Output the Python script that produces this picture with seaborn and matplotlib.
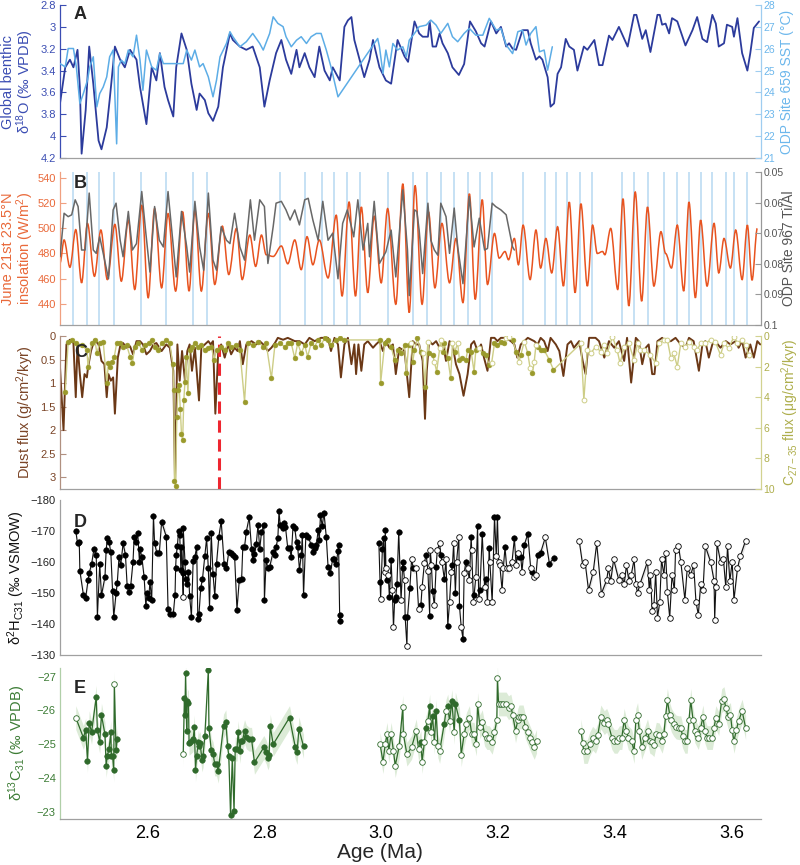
import numpy as np
import pandas as pd
import seaborn as sns
import matplotlib.pyplot as plt
from matplotlib.path import Path
from matplotlib.patches import PathPatch

sns.set_theme(style="white")
plt.rcParams['font.family'] = ['Liberation Sans', 'DejaVu Sans']
plt.rcParams['mathtext.default'] = 'regular'

# ---------------- data (age in Ma) ----------------
# A: global benthic d18O stack (per mil VPDB)
LR04 = [(2.450, 3.70), (2.459, 3.37), (2.467, 3.30), (2.473, 3.37), (2.480, 3.21), (2.484, 3.55),
        (2.487, 4.16), (2.494, 3.76), (2.500, 3.18), (2.507, 3.52), (2.516, 4.04), (2.521, 4.12),
        (2.530, 3.92), (2.535, 3.67), (2.544, 3.18), (2.553, 3.30), (2.561, 3.37), (2.570, 3.21),
        (2.581, 3.30), (2.587, 3.55), (2.598, 3.89), (2.607, 3.37), (2.615, 3.49), (2.621, 3.24),
        (2.629, 3.55), (2.635, 3.67), (2.644, 3.82), (2.649, 3.37), (2.658, 3.06), (2.667, 3.21),
        (2.675, 3.52), (2.684, 3.76), (2.689, 3.61), (2.698, 3.67), (2.704, 3.79), (2.712, 3.86),
        (2.721, 3.73), (2.729, 3.37), (2.741, 3.06), (2.746, 3.12), (2.758, 3.18), (2.769, 3.21),
        (2.780, 3.18), (2.792, 3.37), (2.800, 3.73), (2.809, 3.49), (2.820, 3.24), (2.829, 3.12),
        (2.837, 3.30), (2.846, 3.43), (2.855, 3.21), (2.860, 3.37), (2.869, 3.24), (2.877, 3.37),
        (2.886, 3.46), (2.894, 3.18), (2.903, 3.40), (2.912, 3.49), (2.917, 3.37), (2.929, 3.49),
        (2.937, 3.00), (2.943, 2.94), (2.949, 2.91), (2.954, 3.12), (2.963, 3.30), (2.971, 3.46),
        (2.980, 3.30), (2.986, 3.12), (2.997, 3.37), (3.008, 3.49), (3.017, 3.52), (3.028, 3.12),
        (3.040, 3.27), (3.046, 3.32), (3.057, 2.95), (3.065, 3.06), (3.071, 3.09), (3.080, 3.09),
        (3.083, 2.95), (3.088, 3.18), (3.094, 3.18), (3.100, 3.06), (3.105, 3.15), (3.114, 3.24),
        (3.122, 3.37), (3.133, 3.44), (3.142, 3.34), (3.152, 2.95), (3.162, 3.04), (3.171, 3.15),
        (3.177, 3.18), (3.188, 2.95), (3.197, 3.06), (3.205, 3.00), (3.214, 3.18), (3.219, 3.15),
        (3.225, 3.20), (3.231, 3.21), (3.242, 3.03), (3.251, 3.03), (3.256, 3.15), (3.265, 3.30),
        (3.271, 3.27), (3.276, 3.30), (3.285, 3.46), (3.290, 3.73), (3.296, 3.70), (3.302, 3.43),
        (3.308, 3.37), (3.316, 3.11), (3.322, 3.18), (3.330, 3.21), (3.336, 3.40), (3.347, 3.18),
        (3.353, 3.21), (3.365, 3.12), (3.373, 3.35), (3.379, 3.35), (3.390, 3.08), (3.396, 3.12),
        (3.407, 3.00), (3.422, 3.18), (3.433, 2.89), (3.437, 2.89), (3.447, 3.11), (3.453, 3.03),
        (3.461, 3.23), (3.473, 2.89), (3.477, 2.89), (3.481, 2.98), (3.487, 2.97), (3.493, 3.06),
        (3.498, 2.92), (3.507, 2.95), (3.521, 3.17), (3.533, 3.03), (3.541, 2.91), (3.550, 3.11),
        (3.558, 3.14), (3.567, 2.89), (3.573, 2.97), (3.578, 3.18), (3.587, 3.15), (3.592, 2.98),
        (3.601, 3.00), (3.604, 3.09), (3.610, 2.92), (3.618, 3.24), (3.627, 3.40), (3.632, 3.24),
        (3.638, 3.01), (3.647, 2.95)]

# A: ODP Site 659 SST (deg C)
SST659 = [(2.450, 25.32), (2.459, 25.17), (2.464, 26.01), (2.470, 26.01), (2.473, 26.01), (2.478, 25.17),
          (2.484, 23.49), (2.490, 23.95), (2.497, 24.56), (2.501, 25.17), (2.507, 25.63), (2.513, 23.34),
          (2.518, 23.95), (2.524, 24.25), (2.530, 24.71), (2.535, 25.63), (2.541, 25.94), (2.547, 21.65),
          (2.550, 25.17), (2.555, 25.48), (2.561, 25.32), (2.567, 25.94), (2.575, 25.63), (2.581, 26.62),
          (2.587, 25.48), (2.592, 24.10), (2.598, 25.94), (2.607, 25.17), (2.615, 25.02), (2.621, 25.78),
          (2.627, 25.32), (2.661, 25.32), (2.667, 25.94), (2.675, 25.48), (2.681, 25.94), (2.689, 25.17),
          (2.695, 25.32), (2.704, 24.71), (2.712, 23.80), (2.718, 24.56), (2.724, 25.63), (2.735, 26.24),
          (2.741, 26.78), (2.746, 26.55), (2.758, 26.09), (2.769, 26.32), (2.780, 26.70), (2.792, 26.24),
          (2.798, 25.94), (2.809, 26.70), (2.815, 27.46), (2.823, 27.16), (2.832, 27.01), (2.837, 26.55),
          (2.846, 26.09), (2.855, 26.39), (2.863, 26.55), (2.872, 26.24), (2.880, 26.55), (2.889, 26.70),
          (2.897, 26.70), (2.906, 25.94), (2.914, 25.17), (2.926, 23.80), (2.994, 26.47), (2.997, 26.09),
          (3.003, 24.87), (3.008, 25.94), (3.014, 25.17), (3.020, 26.24), (3.028, 25.94), (3.037, 26.09),
          (3.043, 25.63), (3.048, 26.39), (3.057, 26.70), (3.065, 27.01), (3.077, 27.08), (3.085, 27.31),
          (3.094, 27.08), (3.102, 26.70), (3.114, 27.16), (3.122, 26.55), (3.131, 26.32), (3.142, 26.70),
          (3.151, 26.93), (3.162, 26.62), (3.174, 26.62), (3.185, 27.39), (3.197, 26.85), (3.205, 26.93),
          (3.214, 26.17), (3.225, 25.78), (3.234, 26.78), (3.242, 26.85), (3.248, 26.17), (3.256, 26.70),
          (3.265, 27.01), (3.271, 25.86), (3.279, 25.94), (3.285, 25.02), (3.293, 26.09)]

# B: June 21st 23.5N insolation (W/m2), turning points
INSOL = [(2.450, 472.4), (2.457, 490.8), (2.467, 469.0), (2.477, 499.0), (2.487, 456.6), (2.497, 504.0),
         (2.509, 461.8), (2.520, 498.7), (2.531, 459.2), (2.544, 503.2), (2.555, 457.9), (2.567, 506.6),
         (2.578, 451.3), (2.590, 518.4), (2.601, 444.7), (2.612, 515.8), (2.624, 452.6), (2.635, 511.8),
         (2.648, 450.0), (2.660, 513.2), (2.671, 450.0), (2.681, 514.5), (2.692, 450.0), (2.704, 511.8),
         (2.715, 455.3), (2.728, 501.8), (2.739, 463.2), (2.752, 500.0), (2.762, 459.2), (2.775, 494.7),
         (2.785, 469.7), (2.795, 494.7), (2.803, 479.0), (2.815, 477.6), (2.829, 486.0), (2.840, 471.8),
         (2.852, 490.8), (2.863, 467.1), (2.873, 493.4), (2.883, 471.0), (2.894, 490.8), (2.909, 460.5),
         (2.923, 510.5), (2.933, 446.0), (2.945, 521.0), (2.956, 446.0), (2.966, 517.1), (2.977, 448.7),
         (2.988, 509.7), (3.000, 456.6), (3.011, 515.8), (3.025, 439.5), (3.037, 535.5), (3.048, 432.9),
         (3.058, 534.2), (3.070, 439.5), (3.081, 513.2), (3.092, 452.6), (3.104, 504.0), (3.117, 456.6),
         (3.128, 492.0), (3.140, 440.8), (3.151, 527.6), (3.161, 443.4), (3.173, 522.9), (3.182, 455.3),
         (3.194, 496.0), (3.202, 476.3), (3.212, 481.6), (3.218, 475.0), (3.228, 492.0), (3.235, 471.0),
         (3.243, 502.6), (3.255, 459.2), (3.265, 498.7), (3.273, 468.4), (3.282, 492.0), (3.292, 464.5),
         (3.302, 501.3), (3.312, 454.0), (3.322, 521.0), (3.332, 448.7), (3.342, 519.7), (3.353, 454.0),
         (3.362, 502.6), (3.370, 480.0), (3.379, 481.6), (3.383, 479.0), (3.393, 500.0), (3.405, 451.3),
         (3.414, 523.7), (3.424, 438.2), (3.435, 529.0), (3.446, 442.0), (3.456, 517.1), (3.467, 454.0),
         (3.479, 497.4), (3.487, 480.0), (3.497, 468.4), (3.507, 502.6), (3.518, 450.0), (3.527, 521.0),
         (3.538, 444.7), (3.547, 506.6), (3.558, 454.0), (3.570, 504.0), (3.578, 464.5), (3.587, 492.0),
         (3.598, 468.4), (3.607, 498.7), (3.618, 459.2), (3.627, 502.6), (3.635, 458.7), (3.644, 500.0)]

# B: ODP Site 967 Ti/Al
TIAL967 = [(2.450, 0.0777), (2.457, 0.0635), (2.464, 0.0646), (2.470, 0.0640), (2.476, 0.0591),
           (2.481, 0.0613), (2.487, 0.0755), (2.493, 0.0755), (2.500, 0.0569), (2.507, 0.0755),
           (2.512, 0.0766), (2.518, 0.0712), (2.524, 0.0766), (2.533, 0.0849), (2.541, 0.0624),
           (2.546, 0.0602), (2.553, 0.0723), (2.558, 0.0777), (2.567, 0.0629), (2.574, 0.0755),
           (2.581, 0.0734), (2.590, 0.0564), (2.597, 0.0700), (2.604, 0.0827), (2.612, 0.0613),
           (2.620, 0.0723), (2.627, 0.0745), (2.635, 0.0564), (2.643, 0.0723), (2.649, 0.0843),
           (2.658, 0.0629), (2.667, 0.0745), (2.672, 0.0827), (2.681, 0.0596), (2.689, 0.0745),
           (2.696, 0.0821), (2.704, 0.0569), (2.712, 0.0788), (2.718, 0.0821), (2.726, 0.0679),
           (2.735, 0.0723), (2.741, 0.0734), (2.749, 0.0635), (2.758, 0.0745), (2.766, 0.0788),
           (2.776, 0.0591), (2.783, 0.0723), (2.792, 0.0591), (2.800, 0.0613), (2.806, 0.0799),
           (2.815, 0.0679), (2.820, 0.0602), (2.829, 0.0596), (2.837, 0.0624), (2.844, 0.0657),
           (2.852, 0.0624), (2.860, 0.0673), (2.869, 0.0591), (2.875, 0.0586), (2.883, 0.0657),
           (2.892, 0.0723), (2.900, 0.0596), (2.909, 0.0723), (2.917, 0.0700), (2.926, 0.0849),
           (2.934, 0.0668), (2.942, 0.0624), (2.949, 0.0679), (2.953, 0.0712), (2.960, 0.0591),
           (2.969, 0.0755), (2.977, 0.0668), (2.980, 0.0777), (2.988, 0.0596), (2.997, 0.0799),
           (3.008, 0.0761), (3.017, 0.0690), (3.025, 0.0843), (3.037, 0.0558), (3.045, 0.0755),
           (3.048, 0.0904), (3.057, 0.0624), (3.061, 0.0629), (3.065, 0.0690), (3.071, 0.0832),
           (3.080, 0.0602), (3.085, 0.0723), (3.091, 0.0755), (3.097, 0.0772), (3.102, 0.0602),
           (3.111, 0.0646), (3.117, 0.0766), (3.125, 0.0618), (3.131, 0.0745), (3.140, 0.0865),
           (3.151, 0.0580), (3.159, 0.0745), (3.168, 0.0651), (3.177, 0.0755), (3.182, 0.0750),
           (3.190, 0.0602), (3.196, 0.0613), (3.205, 0.0624), (3.214, 0.0640), (3.225, 0.0745),
           (3.228, 0.0755)]

# B: highlighted ages (light blue bars)
BAR_AGES = [2.473, 2.496, 2.516, 2.543, 2.588, 2.631, 2.678, 2.702, 2.826, 2.870, 2.898, 2.920,
            2.942, 2.963, 3.012, 3.054, 3.078, 3.102, 3.125, 3.148, 3.169, 3.190, 3.243, 3.280,
            3.299, 3.319, 3.341, 3.361, 3.412, 3.433, 3.456, 3.485, 3.507, 3.527, 3.547, 3.567,
            3.591, 3.604, 3.626]

# C: dust flux (g/cm2/kyr)
DUST = [(2.450, 0.67), (2.456, 2.00), (2.461, 0.18), (2.467, 0.08), (2.473, 0.15), (2.477, 1.30),
        (2.480, 0.18), (2.484, 0.81), (2.488, 1.30), (2.492, 0.81), (2.496, 0.88), (2.498, 0.67),
        (2.503, 0.32), (2.509, 0.08), (2.516, 0.18), (2.521, 0.53), (2.526, 0.60), (2.530, 1.30),
        (2.533, 0.81), (2.537, 0.95), (2.541, 0.88), (2.544, 1.65), (2.549, 0.46), (2.553, 0.22),
        (2.558, 0.15), (2.564, 0.25), (2.570, 0.22), (2.575, 0.39), (2.581, 0.11), (2.587, 0.11),
        (2.592, 0.18), (2.598, 0.39), (2.604, 0.32), (2.610, 0.18), (2.615, 0.15), (2.624, 0.32),
        (2.632, 0.18), (2.638, 0.25), (2.644, 0.74), (2.647, 3.10), (2.651, 0.18), (2.655, 0.95),
        (2.659, 0.32), (2.664, 0.95), (2.668, 0.32), (2.672, 0.18), (2.676, 0.74), (2.681, 0.25),
        (2.688, 1.37), (2.692, 0.25), (2.698, 0.18), (2.704, 0.11), (2.708, 0.18), (2.712, 0.11),
        (2.716, 1.65), (2.721, 0.32), (2.726, 0.18), (2.732, 0.46), (2.738, 0.18), (2.743, 0.39),
        (2.749, 0.25), (2.754, 0.32), (2.758, 0.11), (2.763, 0.60), (2.769, 0.18), (2.778, 0.11),
        (2.786, 0.18), (2.792, 0.11), (2.798, 0.18), (2.806, 0.32), (2.812, 0.25), (2.818, 0.15),
        (2.823, 0.04), (2.832, 0.08), (2.840, 0.04), (2.852, 0.11), (2.860, 0.11), (2.869, 0.18),
        (2.877, 0.04), (2.886, 0.11), (2.897, 0.04), (2.909, 0.04), (2.914, 0.32), (2.920, 0.04),
        (2.926, 0.18), (2.931, 0.88), (2.937, 0.18), (2.943, 0.04), (2.949, 0.60), (2.954, 0.18),
        (2.957, 0.81), (2.961, 0.18), (2.966, 0.74), (2.971, 0.18), (2.977, 0.11), (2.986, 0.25),
        (2.991, 0.18), (2.997, 0.11), (3.003, 0.32), (3.008, 0.11), (3.014, 0.25), (3.020, 0.18),
        (3.025, 0.81), (3.031, 0.25), (3.040, 0.32), (3.048, 1.30), (3.054, 0.11), (3.060, 0.18),
        (3.065, 0.18), (3.071, 0.53), (3.075, 1.76), (3.078, 0.74), (3.082, 0.11), (3.088, 0.18),
        (3.094, 0.11), (3.100, 0.25), (3.105, 0.11), (3.111, 0.53), (3.117, 0.11), (3.122, 0.18),
        (3.128, 0.60), (3.134, 0.81), (3.141, 1.27), (3.148, 0.81), (3.154, 0.18), (3.159, 0.11),
        (3.165, 0.32), (3.171, 0.18), (3.176, 0.46), (3.182, 0.74), (3.188, 0.04), (3.194, 0.04),
        (3.199, 0.11), (3.205, 0.04), (3.213, 0.04), (3.222, 0.11), (3.228, 0.18), (3.233, 0.46),
        (3.239, 0.18), (3.245, 0.11), (3.251, 0.04), (3.262, 0.11), (3.268, 0.18), (3.273, 0.04),
        (3.279, 0.11), (3.285, 0.32), (3.290, 0.04), (3.299, 0.18), (3.305, 0.32), (3.312, 0.85),
        (3.319, 0.18), (3.325, 0.11), (3.330, 0.25), (3.339, 0.11), (3.345, 0.53), (3.350, 0.81),
        (3.356, 0.04), (3.362, 0.04), (3.367, 0.04), (3.373, 0.11), (3.382, 0.46), (3.390, 0.11),
        (3.399, 0.25), (3.407, 0.11), (3.416, 0.53), (3.421, 0.04), (3.428, 0.99), (3.436, 0.04),
        (3.441, 0.11), (3.447, 0.60), (3.453, 0.25), (3.458, 0.18), (3.464, 0.81), (3.468, 0.81),
        (3.473, 0.11), (3.481, 0.04), (3.487, 0.11), (3.496, 0.11), (3.504, 0.04), (3.513, 0.18),
        (3.521, 0.25), (3.527, 0.04), (3.535, 0.11), (3.544, 0.74), (3.550, 0.18), (3.555, 0.11),
        (3.561, 0.46), (3.567, 0.18), (3.572, 0.11), (3.581, 0.25), (3.590, 0.11), (3.598, 0.18),
        (3.607, 0.11), (3.612, 0.25), (3.618, 0.11), (3.624, 0.46), (3.632, 0.18), (3.638, 0.46),
        (3.644, 0.11), (3.649, 0.18)]

# C: C27-35 n-alkane flux (ug/cm2/kyr); third value 1 = open symbol
WAX = [(2.459, 3.64, 0), (2.464, 0.37, 0), (2.470, 0.26, 0), (2.478, 0.48, 0), (2.487, 0.59, 0),
       (2.496, 0.92, 0), (2.498, 2.00, 0), (2.504, 0.48, 0), (2.510, 0.26, 0), (2.513, 1.13, 0),
       (2.518, 0.48, 0), (2.524, 0.37, 0), (2.530, 3.09, 0), (2.533, 1.79, 0), (2.535, 2.00, 0),
       (2.539, 1.68, 0), (2.543, 1.35, 0), (2.547, 0.48, 0), (2.553, 0.48, 0), (2.558, 0.70, 0),
       (2.564, 0.59, 0), (2.570, 1.35, 0), (2.574, 1.79, 0), (2.578, 0.70, 0), (2.584, 0.48, 0),
       (2.591, 0.92, 0), (2.595, 0.59, 0), (2.602, 0.48, 0), (2.607, 0.26, 0), (2.612, 0.70, 0),
       (2.618, 0.92, 0), (2.624, 0.48, 0), (2.632, 0.26, 0), (2.638, 0.48, 0), (2.643, 1.80, 0),
       (2.645, 3.50, 0), (2.646, 9.50, 0), (2.648, 9.80, 0), (2.650, 5.30, 0), (2.652, 3.50, 0),
       (2.654, 3.20, 0), (2.656, 4.80, 0), (2.658, 6.40, 0), (2.660, 6.80, 0), (2.662, 4.20, 0),
       (2.664, 3.00, 0), (2.666, 1.35, 0), (2.669, 3.75, 0), (2.672, 0.92, 0), (2.676, 0.70, 0),
       (2.681, 0.48, 0), (2.686, 0.70, 0), (2.692, 0.59, 0), (2.698, 0.92, 0), (2.704, 0.81, 0),
       (2.709, 0.70, 0), (2.714, 1.57, 0), (2.718, 0.92, 0), (2.726, 0.70, 0), (2.732, 0.92, 0),
       (2.738, 0.48, 0), (2.743, 0.70, 0), (2.752, 0.59, 0), (2.758, 0.92, 0), (2.766, 4.29, 0),
       (2.772, 0.48, 0), (2.780, 0.59, 0), (2.789, 0.37, 0), (2.798, 0.70, 0), (2.803, 0.48, 0),
       (2.812, 2.77, 0), (2.818, 0.59, 0), (2.826, 0.48, 0), (2.835, 0.70, 0), (2.840, 0.48, 0),
       (2.846, 0.48, 0), (2.852, 1.46, 0), (2.857, 0.48, 0), (2.863, 1.13, 0), (2.869, 0.59, 0),
       (2.874, 1.35, 0), (2.880, 0.48, 0), (2.886, 0.70, 0), (2.892, 0.26, 0), (2.897, 0.59, 0),
       (2.903, 0.15, 0), (2.909, 0.26, 0), (2.914, 0.59, 0), (2.923, 0.26, 0), (2.929, 0.15, 0),
       (2.937, 0.26, 0), (2.998, 0.26, 0), (2.999, 3.09, 0), (3.006, 0.48, 0), (3.011, 0.26, 0),
       (3.017, 0.70, 0), (3.023, 1.57, 0), (3.028, 0.92, 0), (3.034, 1.13, 0), (3.040, 0.59, 0),
       (3.043, 2.44, 0), (3.047, 0.59, 0), (3.051, 0.48, 1), (3.054, 1.68, 0), (3.057, 0.92, 0),
       (3.062, 0.15, 0), (3.068, 1.02, 0), (3.071, 1.13, 1), (3.075, 3.31, 0), (3.080, 0.37, 1),
       (3.082, 1.13, 0), (3.088, 1.24, 0), (3.091, 1.68, 1), (3.095, 2.33, 0), (3.100, 0.81, 1),
       (3.102, 0.26, 1), (3.105, 1.02, 0), (3.108, 0.48, 0), (3.114, 1.46, 0), (3.119, 2.77, 0),
       (3.122, 0.48, 1), (3.126, 1.02, 0), (3.131, 0.48, 1), (3.134, 1.57, 0), (3.139, 1.46, 0),
       (3.145, 1.57, 0), (3.148, 0.92, 0), (3.154, 1.02, 0), (3.159, 2.33, 0), (3.162, 0.92, 0),
       (3.168, 0.81, 1), (3.174, 1.13, 0), (3.179, 1.24, 0), (3.185, 1.90, 0), (3.189, 1.79, 1),
       (3.194, 0.48, 0), (3.199, 0.59, 0), (3.205, 0.37, 0), (3.211, 0.48, 0), (3.213, 0.15, 1),
       (3.219, 0.04, 1), (3.225, 0.26, 0), (3.231, 1.02, 0), (3.236, 1.68, 1), (3.239, 1.24, 0),
       (3.245, 0.37, 1), (3.251, 1.13, 0), (3.255, 2.11, 1), (3.259, 2.44, 0), (3.262, 1.68, 1),
       (3.265, 0.59, 1), (3.268, 0.70, 0), (3.273, 0.92, 0), (3.279, 0.92, 0), (3.288, 1.57, 0),
       (3.295, 2.22, 0), (3.342, 0.48, 1), (3.347, 4.18, 1), (3.353, 0.92, 1), (3.359, 1.13, 1),
       (3.367, 0.70, 1), (3.376, 1.02, 1), (3.382, 0.59, 1), (3.387, 1.13, 1), (3.396, 0.04, 1),
       (3.404, 0.92, 1), (3.409, 1.79, 1), (3.416, 0.70, 1), (3.424, 0.48, 1), (3.433, 1.57, 1),
       (3.439, 0.48, 1), (3.444, 0.92, 1), (3.450, 0.92, 1), (3.461, 1.24, 1), (3.470, 1.79, 1),
       (3.476, 0.48, 1), (3.484, 0.26, 1), (3.490, 0.26, 1), (3.496, 1.46, 1), (3.501, 1.13, 1),
       (3.507, 2.00, 1), (3.513, 0.48, 1), (3.521, 0.70, 1), (3.527, 0.37, 1), (3.535, 0.70, 1),
       (3.541, 0.92, 1), (3.547, 0.48, 1), (3.555, 0.48, 1), (3.564, 0.26, 1), (3.572, 0.37, 1),
       (3.581, 1.24, 1), (3.587, 0.48, 1), (3.595, 0.81, 1), (3.604, 0.04, 1), (3.610, 0.48, 1),
       (3.618, 0.26, 1), (3.624, 0.59, 1), (3.629, 1.24, 1)]
DASHED_AGE = 2.723

# D: dD of C31 n-alkane (per mil VSMOW); 1 = open symbol
D2H = [(2.477, -170.0, 0), (2.480, -166.0, 0), (2.483, -166.3, 0), (2.484, -157.1, 0), (2.490, -149.5, 0),
       (2.494, -148.5, 0), (2.498, -154.1, 0), (2.500, -156.5, 0), (2.504, -159.2, 0), (2.508, -164.1, 0),
       (2.512, -162.4, 0), (2.514, -142.4, 0), (2.518, -159.2, 0), (2.521, -149.2, 0), (2.527, -155.2, 0),
       (2.529, -163.8, 0), (2.531, -167.6, 0), (2.534, -166.4, 0), (2.537, -163.1, 0), (2.540, -150.5, 0),
       (2.542, -142.2, 0), (2.546, -150.0, 0), (2.548, -153.2, 0), (2.551, -161.5, 0), (2.554, -159.0, 0),
       (2.558, -166.0, 0), (2.562, -162.4, 0), (2.565, -152.2, 0), (2.568, -150.3, 0), (2.571, -152.2, 0),
       (2.575, -160.1, 0), (2.577, -168.2, 0), (2.580, -166.3, 0), (2.583, -169.5, 0), (2.586, -160.1, 0),
       (2.587, -164.1, 0), (2.590, -161.7, 0), (2.594, -155.2, 0), (2.597, -145.7, 0), (2.599, -150.0, 0),
       (2.602, -148.5, 0), (2.604, -153.6, 0), (2.607, -147.6, 0), (2.610, -174.9, 0), (2.612, -166.0, 0),
       (2.616, -162.8, 0), (2.620, -162.8, 0), (2.624, -173.0, 0), (2.632, -168.2, 0), (2.635, -144.9, 0),
       (2.638, -143.1, 0), (2.644, -143.3, 0), (2.647, -149.5, 0), (2.648, -158.2, 0), (2.649, -162.2, 0),
       (2.651, -165.2, 0), (2.653, -170.1, 0), (2.655, -168.7, 0), (2.657, -157.4, 0), (2.658, -164.7, 0),
       (2.660, -156.5, 0), (2.661, -148.7, 1), (2.661, -170.9, 0), (2.664, -160.1, 0), (2.665, -154.6, 0),
       (2.668, -153.0, 0), (2.670, -156.8, 0), (2.672, -148.9, 0), (2.675, -142.4, 0), (2.678, -160.4, 0),
       (2.681, -161.7, 0), (2.684, -164.9, 0), (2.686, -141.7, 0), (2.688, -143.3, 0), (2.691, -151.7, 0),
       (2.694, -154.6, 0), (2.698, -161.9, 0), (2.701, -167.6, 0), (2.704, -157.9, 0), (2.706, -145.2, 0),
       (2.709, -169.2, 0), (2.712, -156.1, 0), (2.715, -149.0, 0), (2.718, -159.5, 0), (2.722, -168.2, 0),
       (2.726, -173.2, 0), (2.731, -159.5, 0), (2.735, -157.9, 0), (2.739, -163.3, 0), (2.742, -163.0, 0),
       (2.746, -162.4, 0), (2.749, -161.7, 0), (2.753, -144.6, 0), (2.757, -154.3, 0), (2.761, -154.6, 0),
       (2.763, -164.9, 0), (2.766, -164.9, 0), (2.769, -169.8, 0), (2.774, -174.4, 0), (2.778, -164.1, 0),
       (2.780, -160.6, 0), (2.783, -162.5, 0), (2.786, -165.7, 0), (2.789, -171.9, 0), (2.792, -164.2, 0),
       (2.795, -169.6, 0), (2.799, -171.9, 0), (2.800, -147.6, 0), (2.803, -160.6, 0), (2.806, -157.9, 0),
       (2.809, -158.4, 0), (2.815, -163.3, 0), (2.818, -162.2, 0), (2.820, -164.9, 0), (2.823, -167.6, 0),
       (2.825, -176.3, 0), (2.827, -171.9, 0), (2.831, -170.9, 0), (2.833, -172.5, 0), (2.836, -171.4, 0),
       (2.840, -164.4, 0), (2.843, -164.4, 0), (2.846, -161.7, 0), (2.849, -171.6, 0), (2.852, -170.9, 0),
       (2.855, -166.3, 0), (2.857, -164.9, 0), (2.860, -157.4, 0), (2.863, -162.2, 0), (2.865, -168.7, 0),
       (2.867, -149.2, 0), (2.871, -168.7, 0), (2.875, -168.2, 0), (2.880, -165.5, 0), (2.883, -163.3, 0),
       (2.886, -164.4, 0), (2.889, -165.5, 0), (2.892, -170.3, 0), (2.894, -167.1, 0), (2.896, -175.2, 0),
       (2.899, -171.6, 0), (2.902, -175.9, 0), (2.906, -167.9, 0), (2.909, -158.4, 0), (2.913, -156.5, 0),
       (2.917, -161.1, 0), (2.920, -160.8, 0), (2.923, -159.5, 0), (2.926, -163.6, 0), (2.927, -165.5, 0),
       (2.929, -141.1, 0), (2.930, -143.0, 0),
       (2.996, -166.2, 0), (2.998, -153.6, 0), (2.999, -148.2, 1), (3.002, -164.1, 0), (3.004, -167.6, 0),
       (3.006, -156.8, 1), (3.007, -170.3, 0), (3.008, -157.9, 1), (3.010, -154.1, 0), (3.012, -155.7, 1),
       (3.014, -148.7, 0), (3.017, -160.6, 0), (3.019, -150.9, 1), (3.021, -139.0, 1), (3.023, -147.6, 0),
       (3.025, -148.7, 0), (3.027, -153.0, 0), (3.030, -169.8, 0), (3.034, -147.6, 1), (3.037, -160.1, 0),
       (3.038, -157.9, 0), (3.040, -154.1, 1), (3.041, -142.2, 0), (3.044, -133.0, 1), (3.045, -142.2, 0),
       (3.049, -151.6, 0), (3.052, -160.8, 1), (3.055, -157.9, 0), (3.060, -157.9, 1), (3.064, -144.9, 1),
       (3.068, -146.2, 0), (3.070, -151.9, 1), (3.074, -159.8, 1), (3.077, -162.4, 0), (3.080, -157.0, 1),
       (3.083, -142.6, 0), (3.084, -163.8, 1), (3.086, -159.0, 1), (3.088, -150.5, 0), (3.091, -146.0, 1),
       (3.094, -158.4, 0), (3.096, -163.8, 1), (3.100, -166.0, 1), (3.102, -162.4, 0), (3.104, -160.1, 1),
       (3.108, -154.6, 0), (3.111, -160.8, 1), (3.114, -139.5, 0), (3.117, -147.1, 1), (3.120, -156.8, 1),
       (3.122, -159.0, 0), (3.124, -166.0, 1), (3.127, -150.1, 0), (3.129, -160.1, 1), (3.133, -168.2, 1),
       (3.134, -145.8, 0), (3.137, -139.0, 1), (3.140, -135.2, 0), (3.142, -156.3, 1), (3.145, -160.1, 0),
       (3.148, -157.9, 1), (3.151, -154.1, 1), (3.154, -168.2, 0), (3.155, -163.8, 1), (3.158, -147.1, 1),
       (3.159, -149.2, 0), (3.162, -155.2, 1), (3.165, -171.6, 0), (3.167, -147.9, 1), (3.169, -150.9, 0),
       (3.173, -169.0, 0), (3.177, -151.9, 1), (3.179, -154.6, 0), (3.182, -147.1, 1), (3.185, -164.4, 0),
       (3.186, -160.1, 1), (3.190, -147.1, 1), (3.194, -174.6, 0), (3.197, -161.9, 1), (3.199, -174.6, 0),
       (3.201, -160.1, 1), (3.203, -159.0, 1), (3.207, -150.9, 1), (3.209, -157.9, 1), (3.212, -164.7, 0),
       (3.215, -157.9, 1), (3.219, -157.9, 1), (3.224, -160.1, 1), (3.228, -167.6, 0), (3.231, -159.0, 1),
       (3.234, -163.0, 1), (3.236, -161.7, 0), (3.239, -161.7, 0), (3.241, -156.8, 1), (3.245, -165.5, 0),
       (3.251, -169.0, 0), (3.256, -157.9, 1), (3.259, -156.8, 0), (3.262, -155.2, 1), (3.265, -155.9, 1),
       (3.268, -162.4, 0), (3.273, -163.0, 0), (3.281, -167.9, 1), (3.288, -159.5, 0), (3.296, -161.4, 0),
       (3.339, -166.9, 1), (3.345, -159.0, 1), (3.349, -160.1, 1), (3.355, -150.9, 1), (3.363, -156.8, 1),
       (3.369, -166.0, 1), (3.377, -149.8, 1), (3.386, -154.1, 1), (3.389, -157.9, 1), (3.393, -153.9, 1),
       (3.398, -160.8, 1), (3.407, -154.1, 1), (3.412, -155.9, 1), (3.416, -152.8, 1), (3.420, -159.0, 1),
       (3.424, -153.9, 1), (3.428, -155.7, 1), (3.433, -160.8, 1), (3.436, -152.8, 1), (3.439, -150.0, 1),
       (3.443, -152.8, 1), (3.456, -160.1, 1), (3.459, -150.9, 1), (3.461, -155.9, 1), (3.464, -144.1, 1),
       (3.467, -146.0, 1), (3.470, -156.8, 1), (3.473, -142.0, 1), (3.477, -147.1, 1), (3.480, -160.8, 1),
       (3.484, -155.9, 1), (3.487, -163.0, 1), (3.490, -150.3, 1), (3.494, -142.0, 1), (3.498, -155.9, 1),
       (3.502, -150.9, 1), (3.504, -163.8, 1), (3.509, -165.1, 1), (3.513, -160.1, 1), (3.520, -147.8, 1),
       (3.524, -157.9, 1), (3.530, -155.9, 1), (3.535, -159.0, 1), (3.539, -147.1, 1), (3.543, -143.0, 1),
       (3.547, -152.8, 1), (3.551, -150.9, 1), (3.555, -165.1, 1), (3.564, -160.1, 1), (3.570, -153.9, 1),
       (3.571, -141.4, 1), (3.573, -151.9, 1), (3.575, -166.0, 1), (3.581, -160.1, 1), (3.586, -160.8, 1),
       (3.590, -151.9, 1), (3.593, -165.1, 1), (3.597, -153.9, 1), (3.601, -160.1, 1), (3.604, -147.8, 1),
       (3.610, -157.9, 1), (3.615, -161.9, 1), (3.624, -166.9, 1)]
D2H_ERR = 1.5

# E: d13C of C31 n-alkane (per mil VPDB); 1 = open symbol
D13C = [(2.477, -25.79, 1), (2.490, -25.20, 0), (2.494, -25.42, 0), (2.497, -24.52, 0), (2.500, -25.64, 0),
        (2.504, -25.35, 0), (2.512, -26.39, 0), (2.514, -25.42, 0), (2.518, -25.08, 0), (2.521, -25.86, 0),
        (2.527, -25.30, 0), (2.529, -24.37, 0), (2.531, -24.67, 0), (2.534, -24.86, 0), (2.537, -25.35, 0),
        (2.538, -24.67, 0), (2.540, -24.67, 0), (2.542, -24.25, 0), (2.543, -26.78, 1), (2.546, -24.83, 0),
        (2.548, -25.15, 0),
        (2.661, -24.71, 1), (2.663, -26.37, 0), (2.664, -25.88, 0), (2.665, -27.10, 0), (2.667, -25.38, 0),
        (2.668, -26.29, 0), (2.670, -26.22, 0), (2.671, -25.03, 0), (2.673, -25.06, 0), (2.677, -25.12, 0),
        (2.678, -25.15, 0), (2.680, -25.51, 0), (2.682, -24.25, 0), (2.684, -24.67, 0), (2.687, -25.08, 0),
        (2.688, -24.96, 0), (2.690, -25.03, 0), (2.693, -24.54, 0), (2.695, -24.67, 0), (2.698, -25.25, 0),
        (2.704, -27.20, 0), (2.705, -25.49, 0), (2.709, -24.83, 0), (2.712, -24.73, 0), (2.715, -24.42, 0),
        (2.718, -24.42, 0), (2.721, -24.21, 0), (2.730, -25.54, 0), (2.734, -25.67, 0), (2.737, -24.94, 0),
        (2.739, -24.67, 0), (2.742, -22.93, 0), (2.745, -24.60, 0), (2.748, -23.03, 0), (2.750, -24.86, 0),
        (2.753, -24.86, 0), (2.755, -25.35, 0), (2.758, -24.79, 0), (2.760, -25.10, 0), (2.762, -25.10, 0),
        (2.766, -25.38, 0), (2.769, -25.22, 0), (2.774, -25.15, 0), (2.778, -25.15, 0), (2.783, -24.47, 0),
        (2.799, -24.91, 0), (2.803, -24.78, 0), (2.806, -24.60, 0), (2.808, -24.70, 0), (2.810, -25.54, 0),
        (2.815, -25.00, 0), (2.843, -25.79, 0), (2.853, -24.91, 0), (2.856, -24.76, 0), (2.859, -25.46, 0),
        (2.867, -24.94, 0),
        (2.998, -25.01, 1), (3.003, -24.49, 1), (3.007, -25.01, 1), (3.010, -25.30, 1), (3.013, -24.81, 1),
        (3.017, -25.30, 1), (3.021, -24.81, 1), (3.024, -24.37, 1), (3.031, -24.96, 1), (3.037, -26.10, 1),
        (3.038, -25.30, 1), (3.044, -24.71, 1), (3.052, -24.91, 1), (3.060, -25.40, 1), (3.064, -24.86, 1),
        (3.068, -25.06, 0), (3.070, -24.49, 1), (3.074, -25.06, 1), (3.076, -25.47, 0), (3.080, -25.69, 1),
        (3.083, -26.13, 0), (3.085, -25.36, 1), (3.088, -25.83, 0), (3.091, -25.06, 1), (3.094, -25.98, 0),
        (3.097, -24.96, 1), (3.100, -24.79, 1), (3.108, -25.61, 0), (3.111, -25.98, 1), (3.114, -26.13, 0),
        (3.117, -25.69, 1), (3.121, -26.27, 0), (3.125, -25.35, 1), (3.127, -26.19, 0), (3.134, -25.71, 0),
        (3.137, -24.69, 1), (3.142, -25.30, 1), (3.146, -25.59, 1), (3.151, -25.79, 1), (3.155, -25.30, 1),
        (3.159, -25.30, 1), (3.163, -25.01, 1), (3.165, -26.18, 1), (3.169, -25.52, 1), (3.173, -25.67, 1),
        (3.177, -25.30, 1), (3.181, -25.20, 1), (3.185, -25.20, 1), (3.190, -25.06, 1), (3.194, -25.35, 1),
        (3.198, -25.71, 1), (3.199, -26.95, 1), (3.201, -26.19, 1), (3.205, -26.19, 1), (3.209, -26.19, 1),
        (3.214, -26.19, 1), (3.218, -26.08, 1), (3.222, -26.13, 1), (3.225, -25.88, 1), (3.230, -25.40, 1),
        (3.234, -25.71, 1), (3.236, -25.81, 1), (3.239, -25.81, 1), (3.243, -25.81, 1), (3.247, -25.51, 1),
        (3.251, -25.35, 1), (3.255, -25.18, 1), (3.258, -25.06, 1), (3.262, -24.91, 1), (3.266, -25.09, 1),
        (3.342, -25.40, 1), (3.345, -25.03, 1), (3.347, -24.79, 1), (3.353, -24.79, 1), (3.357, -25.01, 1),
        (3.362, -25.18, 1), (3.367, -25.09, 1), (3.371, -25.28, 1), (3.376, -25.81, 1), (3.382, -25.64, 1),
        (3.386, -25.71, 1), (3.389, -25.59, 1), (3.395, -25.20, 1), (3.399, -25.09, 1), (3.404, -25.09, 1),
        (3.408, -25.20, 1), (3.412, -25.20, 1), (3.416, -25.71, 1), (3.420, -25.40, 1), (3.423, -25.20, 1),
        (3.429, -25.09, 1), (3.433, -24.79, 1), (3.436, -25.71, 1), (3.439, -25.88, 1), (3.442, -25.40, 1),
        (3.446, -24.91, 1), (3.452, -25.20, 1), (3.456, -25.40, 1), (3.460, -25.09, 1), (3.463, -25.06, 1),
        (3.467, -24.99, 1), (3.471, -25.30, 1), (3.476, -25.28, 1), (3.481, -25.09, 1), (3.484, -25.30, 1),
        (3.487, -25.83, 1), (3.490, -26.30, 1), (3.494, -25.88, 1), (3.497, -25.71, 1), (3.501, -25.59, 1),
        (3.505, -25.51, 1), (3.510, -25.49, 1), (3.513, -25.49, 1), (3.516, -25.25, 1), (3.520, -25.09, 1),
        (3.524, -25.09, 1), (3.527, -25.71, 1), (3.530, -26.30, 1), (3.534, -25.71, 1), (3.537, -25.40, 1),
        (3.540, -25.30, 1), (3.543, -25.20, 1), (3.547, -25.49, 1), (3.551, -25.81, 1), (3.554, -25.40, 1),
        (3.558, -25.20, 1), (3.562, -25.20, 1), (3.567, -25.20, 1), (3.570, -25.49, 1), (3.573, -25.79, 1),
        (3.578, -25.61, 1), (3.583, -26.29, 1), (3.587, -26.35, 1), (3.590, -26.08, 1), (3.594, -25.81, 1),
        (3.598, -25.88, 1), (3.601, -25.42, 1), (3.604, -25.09, 1), (3.608, -25.42, 1), (3.612, -25.69, 1),
        (3.618, -25.98, 1), (3.624, -25.49, 1)]
D13C_ERR = 0.35

XTICKS = [2.6, 2.8, 3.0, 3.2, 3.4, 3.6]
XTICKLABELS = ['2.6', '2.8', '3.0', '3.2', '3.4', '3.6']

# ---------------- colours ----------------
C_LR04, C_LR04_TXT = '#2c3b9c', '#3b4db3'
C_SST, C_SST_TXT = '#5dade6', '#6cb7ec'
C_INS = '#e8531f'
C_TIAL = '#686868'
C_BAR = '#bcdcf2'
C_DUST, C_DUST_TXT = '#6b3816', '#7a4426'
C_WAX, C_WAX_LINE, C_WAX_TXT = '#9a9a2c', '#cdcd86', '#aeae4c'
C_GREEN, C_GREEN_TXT = '#2f6a2b', '#3c7c35'
GRID = '#a0a0a0'
XLIM = (2.45, 3.65)


def to_df(rows, cols):
    return pd.DataFrame(rows, columns=cols)


def seg_ids(ages, gap=0.04):
    a = np.asarray(ages)
    return np.concatenate([[0], np.cumsum(np.diff(a) > gap)])


def turning_point_path(x, y):
    # draw the orbital curve as smooth half-cycles between its read turning points
    verts, codes = [(x[0], y[0])], [Path.MOVETO]
    for i in range(1, len(x)):
        dx = x[i] - x[i - 1]
        verts += [(x[i - 1] + dx / 3, y[i - 1]), (x[i] - dx / 3, y[i]), (x[i], y[i])]
        codes += [Path.CURVE4] * 3
    return Path(verts, codes)


def left_axis(ax, ylim, ticks, labels, txt, spine):
    ax.set_xlim(*XLIM)
    ax.set_ylim(*ylim)
    ax.set_yticks(ticks)
    ax.set_yticklabels(labels)
    ax.set_xticks(XTICKS)
    ax.set_xticklabels([])
    ax.tick_params(axis='y', direction='in', length=4, width=0.8, color=spine,
                   labelcolor=txt, labelsize=8, pad=3)
    ax.tick_params(axis='x', direction='in', length=5, width=0.8, color=GRID)
    for s in ['top', 'right']:
        ax.spines[s].set_visible(False)
    ax.spines['left'].set_color(spine)
    ax.spines['bottom'].set_color(GRID)
    ax.spines['left'].set_linewidth(0.9)
    ax.spines['bottom'].set_linewidth(0.9)
    ax.set_xlabel('')
    ax.set_facecolor('none')


def right_axis(ax, ylim, ticks, labels, txt, spine):
    ax.set_xlim(*XLIM)
    ax.set_ylim(*ylim)
    ax.set_yticks(ticks)
    ax.set_yticklabels(labels)
    ax.tick_params(axis='y', direction='in', length=4, width=0.8, color=spine,
                   labelcolor=txt, labelsize=7.5, pad=2)
    for s in ['top', 'left', 'bottom']:
        ax.spines[s].set_visible(False)
    ax.spines['right'].set_color(spine)
    ax.spines['right'].set_linewidth(0.9)
    ax.set_xlabel('')


fig = plt.figure(figsize=(8, 8.65), dpi=100)
L, W = 0.075, 0.876
axA = fig.add_axes([L, 0.8173, W, 0.1769])
axB = fig.add_axes([L, 0.6243, W, 0.1769])
axC = fig.add_axes([L, 0.4347, W, 0.1769])
axD = fig.add_axes([L, 0.2428, W, 0.1792])
axE = fig.add_axes([L, 0.0532, W, 0.1745])

# ---------------- A ----------------
lr = to_df(LR04, ['age', 'val'])
sst = to_df(SST659, ['age', 'val'])
sns.lineplot(data=lr, x='age', y='val', sort=False, estimator=None, color=C_LR04, lw=1.3, ax=axA)
left_axis(axA, (4.2, 2.8), [2.8, 3.0, 3.2, 3.4, 3.6, 3.8, 4.0, 4.2],
          ['2.8', '3', '3.2', '3.4', '3.6', '3.8', '4', '4.2'], C_LR04_TXT, C_LR04_TXT)
axA.set_ylabel('Global benthic\nδ$^{18}$O (‰ VPDB)', color=C_LR04_TXT, fontsize=10.5, linespacing=1.0)
axA.yaxis.set_label_coords(-0.034, 0.5)
axA2 = axA.twinx()
sns.lineplot(data=sst, x='age', y='val', sort=False, estimator=None, color=C_SST, lw=1.1, ax=axA2)
right_axis(axA2, (21, 28), list(range(21, 29)), [str(v) for v in range(21, 29)], C_SST_TXT, '#9fcdf0')
axA2.set_ylabel('ODP Site 659 SST (°C)', color=C_SST_TXT, fontsize=10)
axA2.yaxis.set_label_coords(1.027, 0.5)

# ---------------- B ----------------
ins = to_df(INSOL, ['age', 'val'])
tial = to_df(TIAL967, ['age', 'val'])
for a in BAR_AGES:
    axB.axvline(a, color=C_BAR, lw=1.2, zorder=0)
axB.add_patch(PathPatch(turning_point_path(ins['age'].values, ins['val'].values),
                        fill=False, edgecolor=C_INS, lw=1.1, zorder=2))
left_axis(axB, (423, 545), [440, 460, 480, 500, 520, 540],
          ['440', '460', '480', '500', '520', '540'], '#e9693a', '#f0a080')
axB.set_ylabel('June 21st 23.5°N\ninsolation (W/m$^2$)', color='#e9693a', fontsize=10.5, linespacing=1.0)
axB.yaxis.set_label_coords(-0.034, 0.5)
axB2 = axB.twinx()
sns.lineplot(data=tial, x='age', y='val', sort=False, estimator=None, color=C_TIAL, lw=1.1, ax=axB2)
right_axis(axB2, (0.1, 0.05), [0.05, 0.06, 0.07, 0.08, 0.09, 0.1],
           ['0.05', '0.06', '0.07', '0.08', '0.09', '0.1'], '#555555', '#999999')
axB2.set_ylabel('ODP Site 967 Ti/Al', color='#555555', fontsize=10)
axB2.yaxis.set_label_coords(1.03, 0.5)

# ---------------- C ----------------
dust = to_df(DUST, ['age', 'val'])
wax = to_df(WAX, ['age', 'val', 'open'])
sns.lineplot(data=dust, x='age', y='val', sort=False, estimator=None, color=C_DUST, lw=1.4, ax=axC)
axC.axvline(DASHED_AGE, color='#ee2630', lw=2.2, ls=(0, (4, 2.2)), zorder=5)
left_axis(axC, (3.25, 0), [0, 0.5, 1, 1.5, 2, 2.5, 3],
          ['0', '0.5', '1', '1.5', '2', '2.5', '3'], C_DUST_TXT, '#b09080')
axC.set_ylabel('Dust flux (g/cm$^2$/kyr)', color=C_DUST_TXT, fontsize=10.5)
axC.yaxis.set_label_coords(-0.034, 0.5)
axC2 = axC.twinx()
sns.lineplot(data=wax, x='age', y='val', sort=False, estimator=None, color=C_WAX_LINE, lw=1.0, ax=axC2)
sns.scatterplot(data=wax[wax.open == 0], x='age', y='val', color=C_WAX, edgecolor=C_WAX,
                s=12, linewidth=0.4, ax=axC2, zorder=3)
sns.scatterplot(data=wax[wax.open == 1], x='age', y='val', color='white', edgecolor=C_WAX_LINE,
                s=12, linewidth=0.7, ax=axC2, zorder=3)
right_axis(axC2, (10, 0), [0, 2, 4, 6, 8, 10], ['0', '2', '4', '6', '8', '10'], C_WAX_TXT, '#d2d290')
axC2.set_ylabel('C$_{27\u221235}$ flux (μg/cm$^2$/kyr)', color=C_WAX_TXT, fontsize=10)
axC2.yaxis.set_label_coords(1.027, 0.5)

# ---------------- D ----------------
dd = to_df(D2H, ['age', 'val', 'open'])
dd['seg'] = seg_ids(dd['age'])
for _, g in dd.groupby('seg'):
    axD.fill_between(g['age'], g['val'] - D2H_ERR, g['val'] + D2H_ERR, color='#e4e4e4', lw=0, zorder=1)
sns.lineplot(data=dd, x='age', y='val', units='seg', sort=False, estimator=None, color='#111111',
             lw=0.8, ax=axD, zorder=2)
sns.scatterplot(data=dd[dd.open == 0], x='age', y='val', color='black', edgecolor='black',
                s=16, linewidth=0.4, ax=axD, zorder=3)
sns.scatterplot(data=dd[dd.open == 1], x='age', y='val', color='white', edgecolor='black',
                s=16, linewidth=0.6, ax=axD, zorder=3)
left_axis(axD, (-130, -180), [-180, -170, -160, -150, -140, -130],
          ['\u2212180', '\u2212170', '\u2212160', '\u2212150', '\u2212140', '\u2212130'], '#222222', GRID)
axD.set_ylabel('δ$^{2}$H$_{C31}$ (‰ VSMOW)', color='#111111', fontsize=10.5)
axD.yaxis.set_label_coords(-0.047, 0.5)

# ---------------- E ----------------
ee = to_df(D13C, ['age', 'val', 'open'])
ee['seg'] = seg_ids(ee['age'])
for _, g in ee.groupby('seg'):
    axE.fill_between(g['age'], g['val'] - D13C_ERR, g['val'] + D13C_ERR, color='#dcebd7', lw=0, zorder=1)
sns.lineplot(data=ee, x='age', y='val', units='seg', sort=False, estimator=None, color=C_GREEN,
             lw=0.9, ax=axE, zorder=2)
sns.scatterplot(data=ee[ee.open == 0], x='age', y='val', color=C_GREEN, edgecolor=C_GREEN,
                s=16, linewidth=0.4, ax=axE, zorder=3)
sns.scatterplot(data=ee[ee.open == 1], x='age', y='val', color='white', edgecolor=C_GREEN,
                s=16, linewidth=0.6, ax=axE, zorder=3)
left_axis(axE, (-22.8, -27.25), [-27, -26, -25, -24, -23],
          ['\u221227', '\u221226', '\u221225', '\u221224', '\u221223'], C_GREEN_TXT, '#b0cfa8')
axE.set_ylabel('δ$^{13}$C$_{31}$ (‰ VPDB)', color=C_GREEN_TXT, fontsize=10.5)
axE.yaxis.set_label_coords(-0.045, 0.5)
axE.set_xticklabels(XTICKLABELS)
axE.tick_params(axis='x', labelsize=13, labelcolor='black', pad=4)
axE.set_xlabel('Age (Ma)', fontsize=15, labelpad=0)
axE.xaxis.set_label_coords(0.457, -0.16)

# panel letters
for letter, yc in zip('ABCDE', [0.9838, 0.7884, 0.5930, 0.3954, 0.2046]):
    fig.text(0.0925, yc, letter, fontsize=13, fontweight='bold', va='center', ha='left', zorder=10)

fig.savefig('out.png', dpi=100)
